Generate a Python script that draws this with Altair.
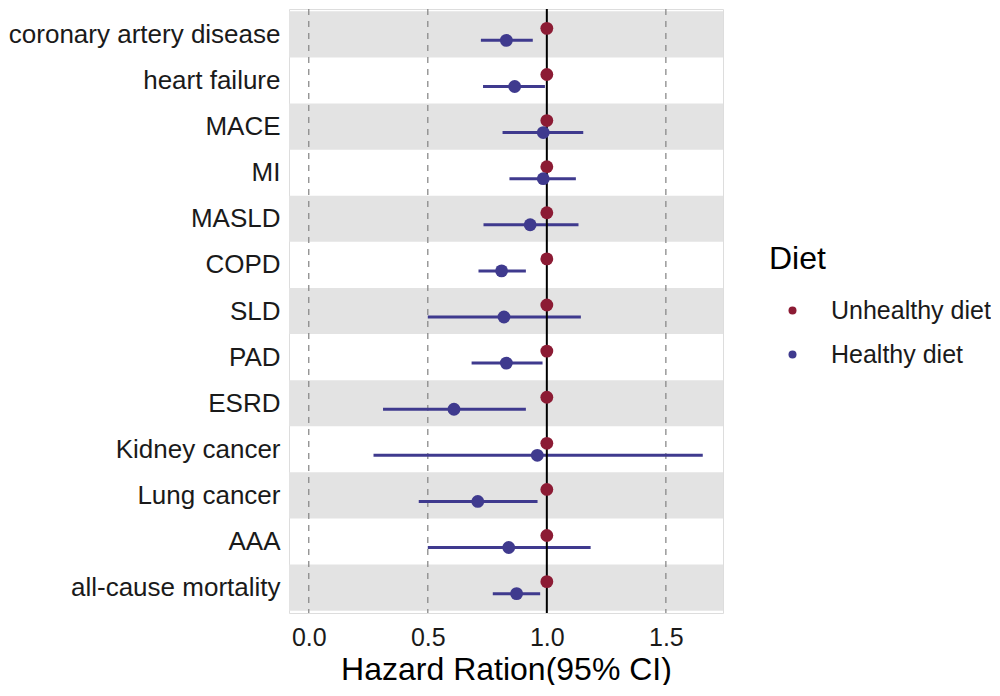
import altair as alt
import pandas as pd

outcomes = ["coronary artery disease", "heart failure", "MACE", "MI", "MASLD", "COPD",
            "SLD", "PAD", "ESRD", "Kidney cancer", "Lung cancer", "AAA", "all-cause mortality"]
healthy_hr = [0.83, 0.865, 0.985, 0.985, 0.93, 0.81, 0.82, 0.83, 0.61, 0.96, 0.71, 0.84, 0.873]
healthy_lo = [0.723, 0.732, 0.814, 0.843, 0.734, 0.713, 0.50, 0.684, 0.312, 0.272, 0.462, 0.50, 0.773]
healthy_hi = [0.941, 0.992, 1.153, 1.122, 1.133, 0.912, 1.143, 0.982, 0.912, 1.655, 0.961, 1.184, 0.972]
unhealthy_hr = [1.0] * len(outcomes)
groups = ["Unhealthy diet", "Healthy diet"]
colors = ["#8C1B34", "#3F3A8E"]
ref_dashed = [0.0, 0.5, 1.5]
ref_solid = [1.0]
x_ticks = [0.0, 0.5, 1.0, 1.5]

W, H = 434, 604
FONT = "Liberation Sans"

rows = list(range(1, len(outcomes) + 1))
pts = pd.DataFrame({
    "row": rows * 2,
    "Outcome": outcomes * 2,
    "Diet": [groups[0]] * len(outcomes) + [groups[1]] * len(outcomes),
    "hr": unhealthy_hr + healthy_hr,
})
ci = pd.DataFrame({"row": rows, "Diet": groups[1], "lo": healthy_lo, "hi": healthy_hi})
bands = pd.DataFrame({"lo": [r - 0.5 for r in rows if r % 2 == 1],
                      "hi": [r + 0.5 for r in rows if r % 2 == 1]})

xscale = alt.Scale(domain=[-0.083, 1.74], nice=False, zero=False)
yscale = alt.Scale(domain=[0.45, 13.55], reverse=True, nice=False, zero=False)
cscale = alt.Scale(domain=groups, range=colors)

label_arr = "[" + ",".join("'" + o + "'" for o in outcomes) + "]"

legend = alt.Legend(title="Diet", orient="none", legendX=480, legendY=235,
                    titleFontSize=32, titleFont=FONT, titleFontWeight="normal",
                    titleColor="#000000", titlePadding=22,
                    labelFontSize=25, labelFont=FONT, labelColor="#1a1a1a", labelLimit=400,
                    symbolType="circle", symbolSize=64, symbolOffset=11,
                    labelOffset=26, rowPadding=18, symbolStrokeWidth=0)

band_layer = alt.Chart(bands).mark_rect(color="#E3E3E3").encode(
    y=alt.Y("lo:Q", scale=yscale),
    y2="hi:Q",
    x=alt.value(0),
    x2=alt.value(W),
)

dashed = alt.Chart(pd.DataFrame({"x": ref_dashed})).mark_rule(
    color="#8a8a8a", strokeWidth=1.3, strokeDash=[6, 6]
).encode(x=alt.X("x:Q", scale=xscale))

solid = alt.Chart(pd.DataFrame({"x": ref_solid})).mark_rule(
    color="#000000", strokeWidth=2
).encode(x=alt.X("x:Q", scale=xscale))

err = alt.Chart(ci).mark_rule(strokeWidth=3, yOffset=6).encode(
    x=alt.X("lo:Q", scale=xscale),
    x2="hi:Q",
    y=alt.Y("row:Q", scale=yscale),
    color=alt.Color("Diet:N", scale=cscale, legend=legend),
)

unh = alt.Chart(pts[pts["Diet"] == groups[0]]).mark_circle(size=165, opacity=1, yOffset=-6).encode(
    x=alt.X("hr:Q", scale=xscale),
    y=alt.Y("row:Q", scale=yscale),
    color=alt.Color("Diet:N", scale=cscale, legend=legend),
)

hea = alt.Chart(pts[pts["Diet"] == groups[1]]).mark_circle(size=165, opacity=1, yOffset=6).encode(
    x=alt.X("hr:Q", scale=xscale,
            axis=alt.Axis(values=x_ticks, format=".1f", title="Hazard Ration(95% CI)",
                          grid=False, ticks=False, domain=False,
                          labelFontSize=25, labelColor="#1a1a1a", labelFont=FONT,
                          labelPadding=12, titleFontSize=32, titleFont=FONT,
                          titleFontWeight="normal", titleColor="#000000", titlePadding=4)),
    y=alt.Y("row:Q", scale=yscale,
            axis=alt.Axis(values=rows, labelExpr=label_arr + "[datum.value-1]", title=None,
                          grid=False, ticks=False, domain=False, labelFontSize=26,
                          labelColor="#1a1a1a", labelFont=FONT, labelPadding=9,
                          labelFlush=False, labelLimit=400)),
    color=alt.Color("Diet:N", scale=cscale, legend=legend),
)

chart = alt.layer(band_layer, dashed, err, solid, unh, hea).properties(
    width=W, height=H, padding=0
).configure_view(stroke=None).configure(font=FONT)

chart.save("out.html", embed_options={"renderer": "svg", "actions": False})
